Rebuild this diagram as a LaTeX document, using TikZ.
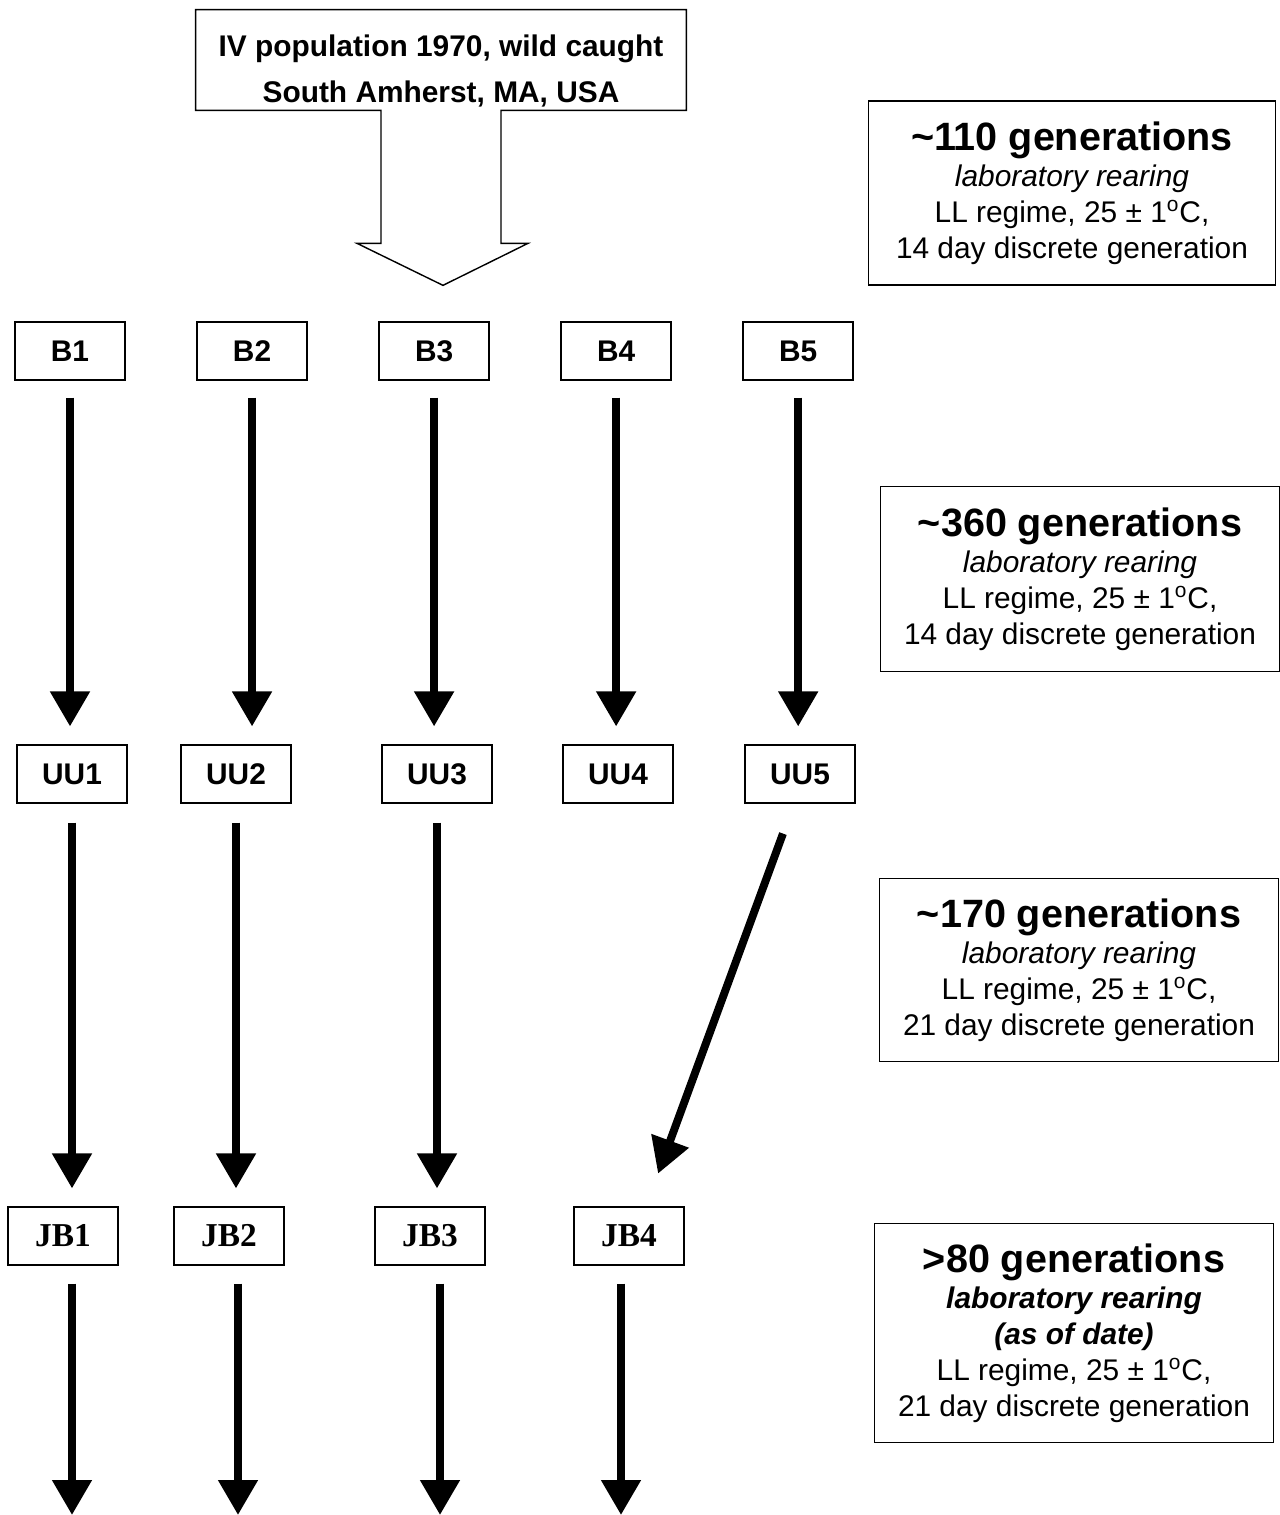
\documentclass[tikz,border=0pt]{standalone}
\usepackage{fontspec}
\setmainfont{Liberation Sans}
\newfontfamily\jbfont{Liberation Serif}
\usepackage{tikz}
\usetikzlibrary{arrows.meta,positioning}

\begin{document}
\begin{tikzpicture}[
    x=0.02cm, y=-0.02cm,
    strain/.style={rectangle, draw, line width=0.9pt, minimum width=2.2cm, minimum height=1.15cm, font=\fontsize{17}{20}\selectfont\bfseries},
    jbstrain/.style={strain, font=\jbfont\fontsize{19}{22}\selectfont\bfseries},
    genbox/.style={rectangle, draw, line width=1pt, align=center, inner sep=0pt, font=\fontsize{17}{20.5}\selectfont},
    flow/.style={-{Triangle[width=0.76cm, length=0.7cm]}, line width=4.5pt}
]
    \useasboundingbox (0,0) rectangle (1280,1515);

    % Founder population
    \node[minimum width=9.8cm, minimum height=2cm] (src) at (441,60) {};
    \node[font=\fontsize{17}{26.7}\selectfont\bfseries, align=center] (srctxt) at ([yshift=-0.22cm]src.center)
        {IV population 1970, wild caught\\South Amherst, MA, USA};
    \draw[line width=0.8pt] ([xshift=-1.2cm]src.south) -- (src.south west) -- (src.north west)
        -- (src.north east) -- (src.south east) -- ([xshift=1.2cm]src.south)
        -- ++(0,133) -- ++(27,0) -- ++(-85,42) -- ++(-86,-42) -- ++(24,0) -- cycle;

    % B lines
    \node[strain] (b1) at (70,351) {B1};
    \node[strain, right=1.41cm of b1] (b2) {B2};
    \node[strain, right=1.41cm of b2] (b3) {B3};
    \node[strain, right=1.41cm of b3] (b4) {B4};
    \node[strain, right=1.41cm of b4] (b5) {B5};

    % UU lines
    \node[strain] (uu1) at (72,774) {UU1};
    \node[strain] (uu2) at (236,774) {UU2};
    \node[strain] (uu3) at (437,774) {UU3};
    \node[strain] (uu4) at (618,774) {UU4};
    \node[strain] (uu5) at (800,774) {UU5};

    % JB lines
    \node[jbstrain] (jb1) at (63,1236) {JB1};
    \node[jbstrain] (jb2) at (229,1236) {JB2};
    \node[jbstrain] (jb3) at (430,1236) {JB3};
    \node[jbstrain] (jb4) at (629,1236) {JB4};

    % Generation notes
    \node[genbox, minimum width=8.14cm, minimum height=3.68cm] (gen1) at (1072,193)
        {{\fontsize{22.5}{27}\selectfont\bfseries\textasciitilde110 generations}\\
         \textit{laboratory rearing}\\
         LL regime, 25 ± 1\textsuperscript{o}C,\\
         14 day discrete generation};
    \node[genbox, minimum width=7.98cm, minimum height=3.7cm] (gen2) at (1080,579)
        {{\fontsize{22.5}{27}\selectfont\bfseries\textasciitilde360 generations}\\
         \textit{laboratory rearing}\\
         LL regime, 25 ± 1\textsuperscript{o}C,\\
         14 day discrete generation};
    \node[genbox, minimum width=7.98cm, minimum height=3.66cm] (gen3) at (1079,970)
        {{\fontsize{22.5}{27}\selectfont\bfseries\textasciitilde170 generations}\\
         \textit{laboratory rearing}\\
         LL regime, 25 ± 1\textsuperscript{o}C,\\
         21 day discrete generation};
    \node[genbox, minimum width=7.98cm, minimum height=4.38cm] (gen4) at (1074,1333)
        {{\fontsize{22.5}{27}\selectfont\bfseries>80 generations}\\
         \textit{\textbf{laboratory rearing}}\\
         \textit{\textbf{(as of date)}}\\
         LL regime, 25 ± 1\textsuperscript{o}C,\\
         21 day discrete generation};

    % B -> UU
    \foreach \i in {1,...,5}
        \draw[flow, shorten <=0.34cm, shorten >=0.36cm] (b\i) -- (b\i |- uu\i.north);

    % UU -> JB
    \foreach \i in {1,2,3}
        \draw[flow, shorten <=0.38cm, shorten >=0.36cm] (uu\i) -- (uu\i |- jb\i.north);
    \draw[flow, shorten <=0.64cm, shorten >=0.7cm] ([xshift=-0.12cm]uu5.south) -- ([xshift=0.34cm]jb4.north);

    % JB -> onwards
    \coordinate (end1) at (72,1515);
    \coordinate (end2) at (238,1515);
    \coordinate (end3) at (440,1515);
    \coordinate (end4) at (621,1515);
    \foreach \i in {1,...,4}
        \draw[flow, shorten <=0.36cm] (end\i |- jb\i.south) -- (end\i);
\end{tikzpicture}
\end{document}
